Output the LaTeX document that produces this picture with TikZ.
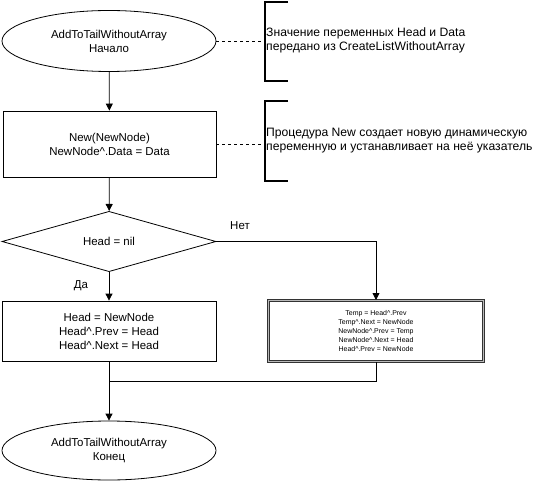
\documentclass[tikz,border=0pt]{standalone}
\usepackage{fontspec}
\setmainfont{Liberation Sans}
\usetikzlibrary{shapes.geometric,arrows.meta}
\begin{document}
\begin{tikzpicture}[x=1bp,y=-1bp,
  base/.style={draw=black, line width=0.8bp, inner sep=0pt, align=center,
    font=\fontsize{11.5}{14}\selectfont},
  term/.style={base, ellipse, minimum width=214bp, minimum height=61bp},
  proc/.style={base, rectangle, minimum width=213bp, minimum height=66bp},
  dec/.style={base, diamond, minimum width=214bp, minimum height=59bp},
  note/.style={align=left, inner sep=0pt, anchor=west, font=\fontsize{12.2}{14}\selectfont},
  lbl/.style={inner sep=0pt, font=\fontsize{11.5}{14}\selectfont},
  arr/.style={line width=0.8bp, -{Triangle[length=7bp,width=7bp]}},
  ln/.style={line width=0.8bp},
  dsh/.style={line width=0.8bp, dash pattern=on 3bp off 3bp},
  brk/.style={line width=1.2bp}
]
\useasboundingbox (0,0) rectangle (536,482);

\node[term] (start) at (109,41) {AddToTailWithoutArray\\Начало};
\node[proc] (new) at (109.5,144) {New(NewNode)\\NewNode\^{}.Data = Data};
\node[dec] (cond) at (109,241.5) {Head = nil};
\node[proc, minimum height=60bp, minimum width=214bp] (yes) at (109,331) {Head = NewNode\\Head\^{}.Prev = Head\\Head\^{}.Next = Head};
\node[base, rectangle, minimum width=215bp, minimum height=61bp, line width=1bp, double=gray!55, double distance=0.9bp, draw=black!80,
  font=\fontsize{7}{9.2}\selectfont] (no) at (376,331) {Temp = Head\^{}.Prev\\Temp\^{}.Next = NewNode\\NewNode\^{}.Prev = Temp\\NewNode\^{}.Next = Head\\Head\^{}.Prev = NewNode};
\node[term, minimum height=59bp] (end) at (109,450.5) {AddToTailWithoutArray\\Конец};

% annotations
\coordinate (b1) at (265,41);
\coordinate (b2) at (265,144);
\draw[brk] (288,2) -- (265,2) -- (265,81) -- (288,81);
\draw[brk] (288,101) -- (265,101) -- (265,181) -- (288,181);
\node[note] (n1) at (266,40) {Значение переменных Head и Data\\передано из CreateListWithoutArray};
\node[note] (n2) at (266,141) {Процедура New создает новую динамическую\\переменную и устанавливает на неё указатель};
\draw[dsh] (start.east) -- (b1);
\draw[dsh] (new.east) -- (b2);

% connectors
\draw[arr] (start) -- (new);
\draw[arr] (new) -- (cond);
\draw[arr] (cond) -- (yes);
\draw[arr] (cond.east) -| (no.north);
\coordinate (m) at (109,381);
\draw[ln] (no.south) |- (m);
\draw[arr] (yes) -- (end);

\node[lbl] (ne) at (240,226) {Нет};
\node[lbl] (da) at (81,286) {Да};
\end{tikzpicture}
\end{document}
